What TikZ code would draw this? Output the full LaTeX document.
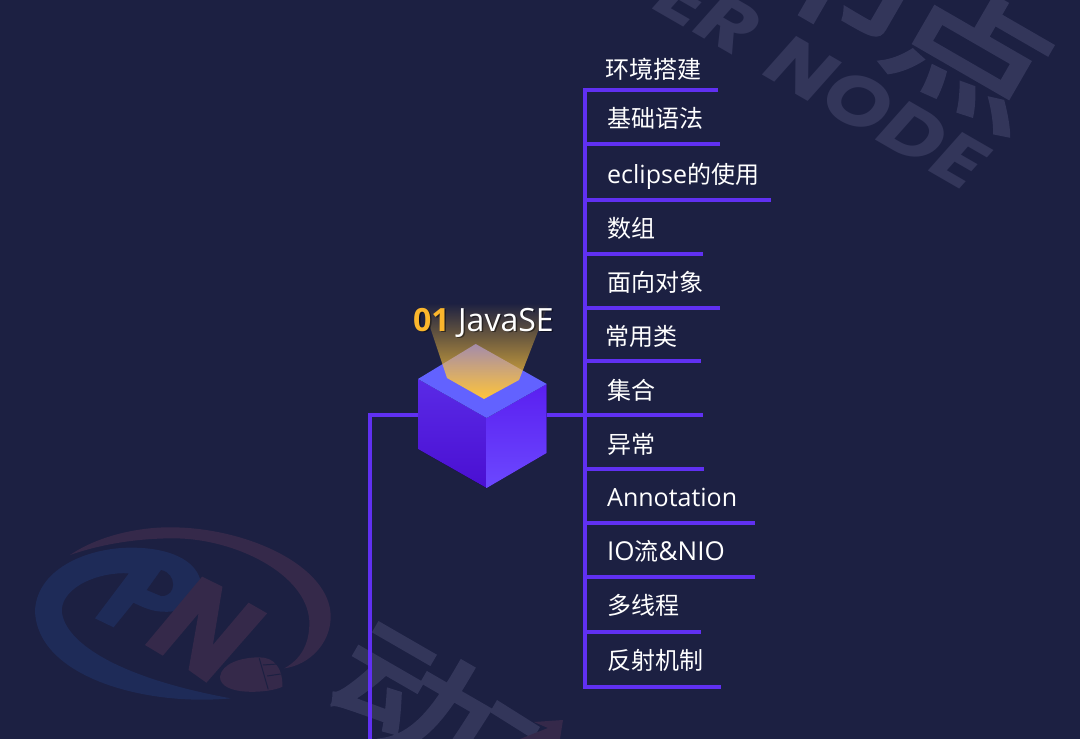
\documentclass[tikz,border=0pt]{standalone}
\usepackage{fontspec}
\setmainfont{Open Sans}
\newfontfamily\cjk{Noto Sans CJK SC}
\newfontfamily\cjkwm[FakeBold=3.5]{Noto Sans CJK SC}
\newfontfamily\wmfont{Poppins}
\usetikzlibrary{fadings}
\definecolor{bgc}{HTML}{1C2042}
\definecolor{lin}{HTML}{6030F2}
\definecolor{wm}{HTML}{33365A}
\definecolor{wmred}{HTML}{35294A}
\definecolor{wmblue}{HTML}{1E2B58}
\definecolor{gold}{HTML}{FBB62C}
\definecolor{beam}{HTML}{FFC53A}
\definecolor{lefttop}{HTML}{5A2AE6}
\definecolor{leftbot}{HTML}{4A0FD2}
\definecolor{righttop}{HTML}{5A1FF0}
\definecolor{rightbot}{HTML}{6C48FF}
\definecolor{topface}{HTML}{6262FF}
\tikzfading[name=beamfade,top color=transparent!100,middle color=transparent!40,bottom color=transparent!0]
\tikzset{
  x=1pt,y=-1pt,
  link/.style={draw=lin,line width=3.8pt},
  item/.style={anchor=west,text=white,font=\fontsize{25}{25}\selectfont,inner sep=0pt,text height=23pt,text depth=5pt},
  wmark/.style={text=wm,inner sep=0pt,rotate=-30},
  wmlatin/.style={wmark,xscale=1.17,font=\wmfont\bfseries\itshape\fontsize{72}{72}\selectfont},
  wmcjk/.style={wmark,yscale=.8,font=\cjkwm\fontsize{160}{160}\selectfont},
  title/.style={inner sep=0pt,anchor=base west,font=\fontsize{32}{32}\selectfont}
}
\newcommand{\zh}[1]{{\cjk\fontsize{24}{24}\selectfont #1}}
\begin{document}
\begin{tikzpicture}
\useasboundingbox (0,0) rectangle (1080,739);
\fill[bgc] (0,0) rectangle (1080,739);
\begin{scope}
\clip (0,0) rectangle (1080,739);
% watermarks
\node[wmlatin] (wmnode) at (877,112) {NODE};
\node[wmlatin] (wmer) at (708,12) {ER};
\node[wmcjk] (wmdian) at (972,52) {点};
\node[wmcjk] (wmjie) at (850,-25) {节};
\node[wmcjk] (wmdong) at (412,700) {动};
\fill[wm] (490,712) -- (497,700) -- (540,727) -- (533,739) -- cycle;
% logo, in the coordinates of a crop
\begin{scope}[shift={(20,510)},xscale=1/2.8,yscale=1/3]
\fill[wmblue] (42,300) .. controls (50,170) and (200,110) .. (320,113) .. controls (420,115) and (490,150) .. (505,210) .. controls (510,270) and (460,310) .. (400,305) .. controls (370,305) and (340,290) .. (318,278) -- (262,352) -- (210,325) -- (305,190) .. controls (220,185) and (120,230) .. (117,300) .. controls (120,390) and (260,500) .. (590,565) .. controls (350,590) and (45,500) .. (42,300) -- cycle;
\fill[bgc] (395,180) .. controls (440,190) and (440,260) .. (395,258) -- (355,240) -- cycle;
\fill[wmred] (140,135) .. controls (230,70) and (350,50) .. (430,52) .. controls (640,55) and (870,170) .. (870,320) .. controls (870,400) and (810,465) .. (740,475) .. controls (800,440) and (812,380) .. (810,330) .. controls (800,190) and (600,85) .. (430,85) .. controls (320,85) and (220,105) .. (140,135) -- cycle;
\fill[wmred] (350,405) -- (400,437) -- (500,310) -- (472,480) -- (522,518) -- (692,310) -- (640,278) -- (540,405) -- (567,230) -- (510,200) -- cycle;
\fill[wmred] (560,500) .. controls (565,460) and (620,442) .. (670,442) .. controls (710,442) and (735,470) .. (735,530) .. controls (700,550) and (560,560) .. (560,500) -- cycle;
\draw[bgc,line width=1pt] (670,445) -- (695,538) (680,465) -- (722,462) (692,498) -- (730,492);
\end{scope}
\fill[wmred] (520,739) -- (548,728) -- (534,722) -- (563,720) -- (560,739) -- cycle;
\end{scope}
% connectors
\coordinate (trunkend) at (370,739);
\coordinate (trunktop) at (370,415);
\coordinate (busL) at (585,415);
\coordinate (bt) at (585,90);
\coordinate (bb) at (585,687);
\foreach \nm/\ye/\xe in {a/90/718,b/144/720,c/200/771,d/254/703,e/308/720,f/361/701,g/415/703,h/469/704,i/523/755,j/577/755,k/632/701,l/687/721}{
  \coordinate (s\nm) at (585,\ye);
  \coordinate (e\nm) at (\xe,\ye);
  \draw[link] (s\nm) -- (e\nm);
}
\draw[link,line cap=rect] (bt) -- (bb);
\coordinate (cubeL) at (420,415);
\coordinate (cubeR) at (545,415);
\draw[link,line cap=rect] (trunktop) -- (cubeL);
\draw[link] (trunkend) -- (trunktop);
\draw[link] (cubeR) -- (busL);
% cube
\coordinate (ct) at (475.7,344);
\coordinate (cl) at (418,379);
\coordinate (cr) at (546.7,384);
\coordinate (cf) at (486.7,418);
\coordinate (cb) at (486.7,488);
\coordinate (clb) at (418,449);
\coordinate (crb) at (546.7,453);
\fill[top color=lefttop,bottom color=leftbot] (cl) -- (cf) -- (cb) -- (clb) -- cycle;
\fill[top color=righttop,bottom color=rightbot] (cf) -- (cr) -- (crb) -- (cb) -- cycle;
\fill[topface] (ct) -- (cr) -- (cf) -- (cl) -- cycle;
% light beam
\fill[beam,path fading=beamfade,fit fading=true] (422,303) -- (549,303) -- (519,380) -- (484,399) -- (447,378) -- cycle;
% title
\node[title,text=black,opacity=.45] (t1s) at (414.5,332.5) {\bfseries 01};
\node[title,text=black,opacity=.45] (t2s) at (459.5,332.5) {JavaSE};
\node[title,text=gold] (t1) at (413,331) {\bfseries 01};
\node[title,text=white] (t2) at (458,331) {JavaSE};
% items
\node[item] (i1) at (605,69) {\zh{环境搭建}};
\node[item] (i2) at (607,118) {\zh{基础语法}};
\node[item] (i3) at (607,174) {eclipse\zh{的使用}};
\node[item] (i4) at (607,228) {\zh{数组}};
\node[item] (i5) at (607,282) {\zh{面向对象}};
\node[item] (i6) at (605,336) {\zh{常用类}};
\node[item] (i7) at (607,390) {\zh{集合}};
\node[item] (i8) at (607,444) {\zh{异常}};
\node[item] (i9) at (607,497) {Annotation};
\node[item] (i10) at (607,551) {\fontsize{26}{26}\selectfont IO\zh{流}\&NIO};
\node[item] (i11) at (607,605) {\zh{多线程}};
\node[item] (i12) at (607,660) {\zh{反射机制}};
\end{tikzpicture}
\end{document}
